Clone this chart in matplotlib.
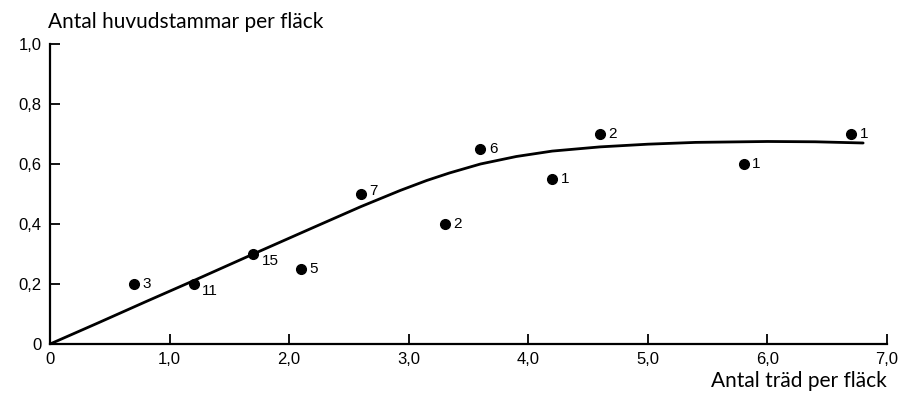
import numpy as np
import matplotlib.pyplot as plt

# observed means per patch size
trees = [0.7, 1.2, 1.7, 2.1, 2.6, 3.3, 3.6, 4.2, 4.6, 5.8, 6.7]
stems = [0.20, 0.20, 0.30, 0.25, 0.50, 0.40, 0.65, 0.55, 0.70, 0.60, 0.70]
counts = ["3", "11", "15", "5", "7", "2", "6", "1", "2", "1", "1"]

# fitted curve
curve_x = [0.0, 0.4, 0.8, 1.2, 1.7, 2.2, 2.6, 2.93, 3.15, 3.34, 3.6, 3.9,
           4.2, 4.6, 5.0, 5.4, 6.0, 6.4, 6.8]
curve_y = [0.0, 0.070, 0.141, 0.211, 0.300, 0.388, 0.458, 0.512, 0.545, 0.570,
           0.600, 0.625, 0.643, 0.657, 0.666, 0.672, 0.675, 0.674, 0.670]

xticks = [0, 1, 2, 3, 4, 5, 6, 7]
xtick_labels = ["0", "1,0", "2,0", "3,0", "4,0", "5,0", "6,0", "7,0"]
yticks = [0, 0.2, 0.4, 0.6, 0.8, 1.0]
ytick_labels = ["0", "0,2", "0,4", "0,6", "0,8", "1,0"]

# label offsets in points (some counts sit below-right of the dot)
label_offset = {1: (6, -5), 2: (6, -5), 4: (6, 2)}

fig = plt.figure(figsize=(9, 3.99), dpi=100)
ax = fig.add_axes([0.0556, 0.1378, 0.93, 0.752])

ax.plot(curve_x, curve_y, color="black", lw=2.0, solid_capstyle="round")
ax.plot(trees, stems, "o", color="black", ms=7)

for i, (x, y, c) in enumerate(zip(trees, stems, counts)):
    dx, dy = label_offset.get(i, (6, 0))
    ax.annotate(c, (x, y), xytext=(dx, dy), textcoords="offset points",
                ha="left", va="center", fontsize=11,
                family="Liberation Sans", color="black")

ax.set_xlim(0, 7)
ax.set_ylim(0, 1.0)
for s in ["top", "right"]:
    ax.spines[s].set_visible(False)
ax.spines["left"].set_linewidth(1.6)
ax.spines["bottom"].set_linewidth(1.6)

ax.set_xticks(xticks)
ax.set_xticklabels(xtick_labels)
ax.set_yticks(yticks)
ax.set_yticklabels(ytick_labels)
ax.tick_params(direction="in", length=7, width=1.3, labelsize=12, pad=6,
               colors="black")
for lab in ax.get_xticklabels() + ax.get_yticklabels():
    lab.set_family("Liberation Sans")

fig.text(0.053, 0.945, "Antal huvudstammar per fläck", fontsize=15,
         family="Lato", color="black", ha="left", va="center")
fig.text(0.985, 0.045, "Antal träd per fläck", fontsize=15,
         family="Lato", color="black", ha="right", va="center")

fig.savefig("out.png", dpi=100, facecolor="white")
